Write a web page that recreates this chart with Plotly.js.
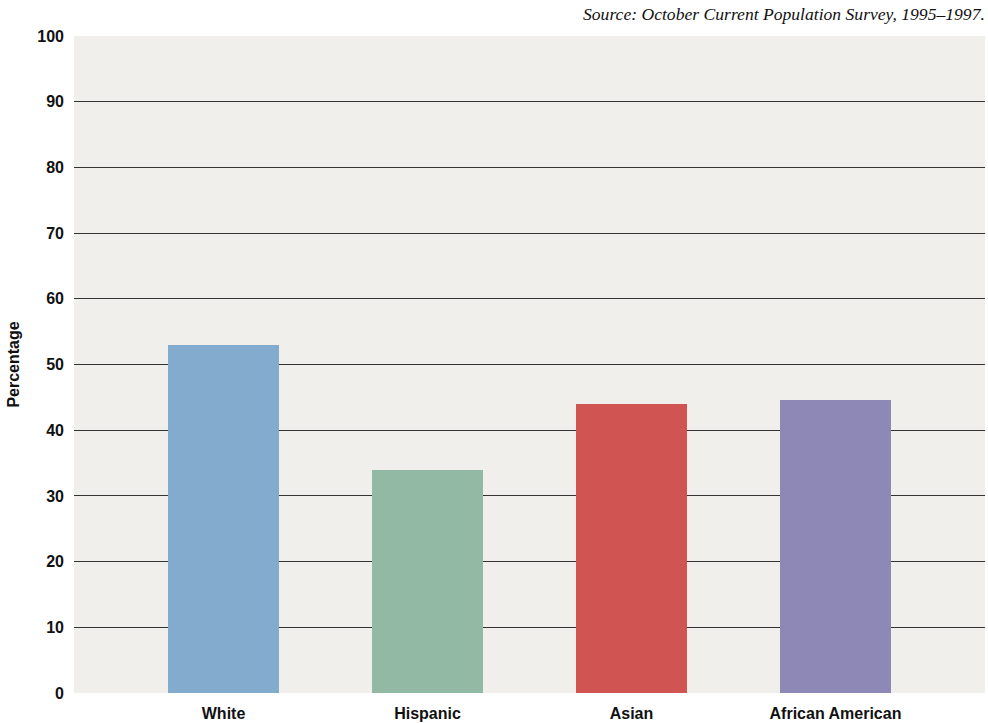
<!DOCTYPE html>
<html>
<head>
<meta charset="utf-8">
<script src="https://cdn.plot.ly/plotly-3.0.1.min.js"></script>
<style>html,body{margin:0;padding:0;background:#fff;}#chart{width:988px;height:723px;}</style>
</head>
<body>
<div id="chart"></div>
<script>
const categories = ["White", "Hispanic", "Asian", "African American"];
const values = [53, 34, 44, 44.6];
const barColors = ["#82abcd", "#91b9a4", "#d05451", "#8e88b7"];
const yTicks = [0, 10, 20, 30, 40, 50, 60, 70, 80, 90, 100];
const gridTicks = [10, 20, 30, 40, 50, 60, 70, 80, 90];
const sourceText = "Source: October Current Population Survey, 1995\u20131997.";
const yTitle = "Percentage";

const font = "Liberation Sans, Arial, sans-serif";

const data = [
  {
    type: "bar",
    x: [0, 1, 2, 3],
    y: values,
    marker: {color: barColors, line: {width: 0}},
    width: 0.544,
    hoverinfo: "skip",
    xaxis: "x",
    yaxis: "y"
  },
  {
    type: "scatter",
    mode: "markers",
    x: [0, 1, 2, 3],
    y: values,
    marker: {opacity: 0, size: 1},
    hoverinfo: "skip",
    xaxis: "x",
    yaxis: "y2"
  }
];

const layout = {
  width: 988,
  height: 723,
  margin: {l: 74, r: 3, t: 36, b: 30},
  paper_bgcolor: "#ffffff",
  plot_bgcolor: "#f0efeb",
  showlegend: false,
  bargap: 0,
  xaxis: {
    range: [-0.733, 3.733],
    tickvals: [0, 1, 2, 3],
    ticktext: categories,
    showgrid: false,
    zeroline: false,
    showline: false,
    ticks: "",
    tickfont: {family: font, size: 16, color: "#111", weight: "bold"},
    ticklabelstandoff: 9
  },
  yaxis: {
    range: [0, 100],
    tickvals: gridTicks,
    showgrid: true,
    gridcolor: "#333333",
    gridwidth: 1,
    zeroline: false,
    showline: false,
    showticklabels: false,
    ticks: ""
  },
  yaxis2: {
    overlaying: "y",
    side: "left",
    range: [0, 100],
    tickvals: yTicks,
    showgrid: false,
    zeroline: false,
    showline: false,
    ticks: "",
    tickfont: {family: font, size: 16, color: "#111", weight: "bold"},
    ticklabelstandoff: 9,
    title: {text: yTitle, font: {family: font, size: 16, color: "#111", weight: "bold"}, standoff: 13}
  },
  annotations: [
    {
      text: sourceText,
      xref: "paper", yref: "paper",
      x: 1.002, y: 1,
      xanchor: "right", yanchor: "bottom",
      yshift: 10,
      showarrow: false,
      font: {family: "Liberation Serif, Times New Roman, serif", size: 17.6, color: "#111", style: "italic"}
    }
  ]
};

Plotly.newPlot("chart", data, layout, {displayModeBar: false, staticPlot: true});
</script>
</body>
</html>
